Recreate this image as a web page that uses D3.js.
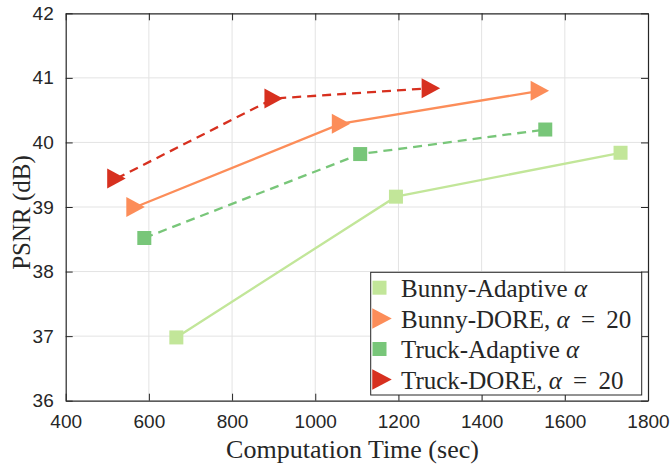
<!DOCTYPE html>
<html>
<head>
<meta charset="utf-8">
<script src="https://cdn.jsdelivr.net/npm/d3@7"></script>
<style>
  html, body { margin: 0; padding: 0; background: #fff; }
  svg { display: block; }
</style>
</head>
<body>
<svg id="chart" width="672" height="465"></svg>
<script>
// Computation time (sec) vs PSNR (dB) for each method
const bunnyAdaptiveTime = [666, 1194, 1734];
const bunnyAdaptivePsnr = [36.98, 39.16, 39.84];
const bunnyDoreTime = [568, 1062, 1540];
const bunnyDorePsnr = [39.00, 40.29, 40.80];
const truckAdaptiveTime = [589, 1108, 1553];
const truckAdaptivePsnr = [38.52, 39.82, 40.20];
const truckDoreTime = [522, 900, 1278];
const truckDorePsnr = [39.44, 40.68, 40.84];

const xTicks = [400, 600, 800, 1000, 1200, 1400, 1600, 1800];
const yTicks = [36, 37, 38, 39, 40, 41, 42];

const seriesNames = ["Bunny-Adaptive", "Bunny-DORE", "Truck-Adaptive", "Truck-DORE"];

const series = [
  { name: seriesNames[0], x: bunnyAdaptiveTime, y: bunnyAdaptivePsnr, color: "#c2e699", marker: "square", dash: null },
  { name: seriesNames[1], x: bunnyDoreTime, y: bunnyDorePsnr, color: "#fc8d59", marker: "triangle", dash: null },
  { name: seriesNames[2], x: truckAdaptiveTime, y: truckAdaptivePsnr, color: "#78c679", marker: "square", dash: "9,6" },
  { name: seriesNames[3], x: truckDoreTime, y: truckDorePsnr, color: "#d7301f", marker: "triangle", dash: "9,6" }
];

const svg = d3.select("#chart");
const plotL = 65.7, plotR = 648, plotT = 13.3, plotB = 400.7;

const x = d3.scaleLinear().domain([400, 1800]).range([plotL, plotR]);
const y = d3.scaleLinear().domain([36, 42]).range([plotB, plotT]);

const axisColor = "#262626";
const tickFont = "'Liberation Sans', Arial, Helvetica, sans-serif";
const serifFont = "'Liberation Serif', 'Times New Roman', Times, serif";

// grid lines
const grid = svg.append("g");
grid.selectAll("line.gx").data(xTicks.slice(1, -1)).join("line")
  .attr("x1", d => x(d)).attr("x2", d => x(d))
  .attr("y1", plotT).attr("y2", plotB)
  .attr("stroke", "#e3e3e3").attr("stroke-width", 1);
grid.selectAll("line.gy").data(yTicks.slice(1, -1)).join("line")
  .attr("x1", plotL).attr("x2", plotR)
  .attr("y1", d => y(d)).attr("y2", d => y(d))
  .attr("stroke", "#e3e3e3").attr("stroke-width", 1);

// axes: ticks inward on all four sides
const tickLen = 7;
const fmt = d3.format("d");
const axisBottom = d3.axisBottom(x).tickValues(xTicks).tickFormat(fmt).tickSize(-tickLen).tickPadding(tickLen + 7).tickSizeOuter(0);
const axisLeft = d3.axisLeft(y).tickValues(yTicks).tickFormat(fmt).tickSize(-tickLen).tickPadding(tickLen + 5).tickSizeOuter(0);
const axisTop = d3.axisTop(x).tickValues(xTicks).tickSize(-tickLen).tickFormat("").tickSizeOuter(0);
const axisRight = d3.axisRight(y).tickValues(yTicks).tickSize(-tickLen).tickFormat("").tickSizeOuter(0);

function styleAxis(g) {
  g.select(".domain").attr("stroke", axisColor).attr("stroke-width", 1.2);
  g.selectAll(".tick line").attr("stroke", axisColor).attr("stroke-width", 1);
  g.selectAll(".tick text").attr("fill", "#262626")
    .style("font-family", tickFont).style("font-size", "19px");
}

svg.append("g").attr("transform", `translate(0,${plotB})`).call(axisBottom).call(styleAxis);
svg.append("g").attr("transform", `translate(${plotL},0)`).call(axisLeft).call(styleAxis);
svg.append("g").attr("transform", `translate(0,${plotT})`).call(axisTop).call(styleAxis);
svg.append("g").attr("transform", `translate(${plotR},0)`).call(axisRight).call(styleAxis);

// axis titles
svg.append("text")
  .attr("x", 352.5).attr("y", 458)
  .attr("text-anchor", "middle")
  .style("font-family", serifFont).style("font-size", "26px").attr("fill", "#262626")
  .text("Computation Time (sec)");
svg.append("text")
  .attr("transform", "translate(30,212.5) rotate(-90)")
  .attr("text-anchor", "middle")
  .style("font-family", serifFont).style("font-size", "25px").attr("fill", "#262626")
  .text("PSNR (dB)");

// marker shapes
const squareSize = 14;
function triPath(w, h) {
  return `M${-w / 2},${-h / 2}L${w / 2},0L${-w / 2},${h / 2}Z`;
}

const line = d3.line().x(d => x(d[0])).y(d => y(d[1]));

series.forEach(s => {
  const pts = s.x.map((v, i) => [v, s.y[i]]);
  const g = svg.append("g");
  g.append("path")
    .attr("d", line(pts))
    .attr("fill", "none")
    .attr("stroke", s.color)
    .attr("stroke-width", 2.3)
    .attr("stroke-dasharray", s.dash);
  if (s.marker === "square") {
    g.selectAll("rect").data(pts).join("rect")
      .attr("x", d => x(d[0]) - squareSize / 2)
      .attr("y", d => y(d[1]) - squareSize / 2)
      .attr("width", squareSize).attr("height", squareSize)
      .attr("fill", s.color);
  } else {
    g.selectAll("path.m").data(pts).join("path")
      .attr("class", "m")
      .attr("transform", d => `translate(${x(d[0])},${y(d[1])})`)
      .attr("d", triPath(18.5, 20))
      .attr("fill", s.color);
  }
});

// legend
const lg = svg.append("g");
lg.append("rect")
  .attr("x", 370.7).attr("y", 272.3).attr("width", 271).attr("height", 122.7)
  .attr("fill", "#fff").attr("stroke", axisColor).attr("stroke-width", 1);

const legendLabels = [
  [seriesNames[0] + " ", "α", ""],
  [seriesNames[1] + ", ", "α", " = 20"],
  [seriesNames[2] + " ", "α", ""],
  [seriesNames[3] + ", ", "α", " = 20"]
];
const rowY = [287.7, 318.5, 349, 379.5];
series.forEach((s, i) => {
  const cy = rowY[i];
  if (s.marker === "square") {
    lg.append("rect")
      .attr("x", 372.5).attr("y", cy - 7)
      .attr("width", 14).attr("height", 14)
      .attr("fill", s.color);
  } else {
    lg.append("path")
      .attr("transform", `translate(382,${cy})`)
      .attr("d", triPath(19.5, 20.5))
      .attr("fill", s.color);
  }
  const t = lg.append("text")
    .attr("x", 401).attr("y", cy + 9.3)
    .style("font-family", serifFont).style("font-size", "25px").attr("fill", "#262626");
  const parts = legendLabels[i];
  t.append("tspan").text(parts[0]);
  t.append("tspan").style("font-style", "italic").text(parts[1]);
  if (parts[2]) t.append("tspan").style("word-spacing", "5px").text(parts[2]);
});
</script>
</body>
</html>
